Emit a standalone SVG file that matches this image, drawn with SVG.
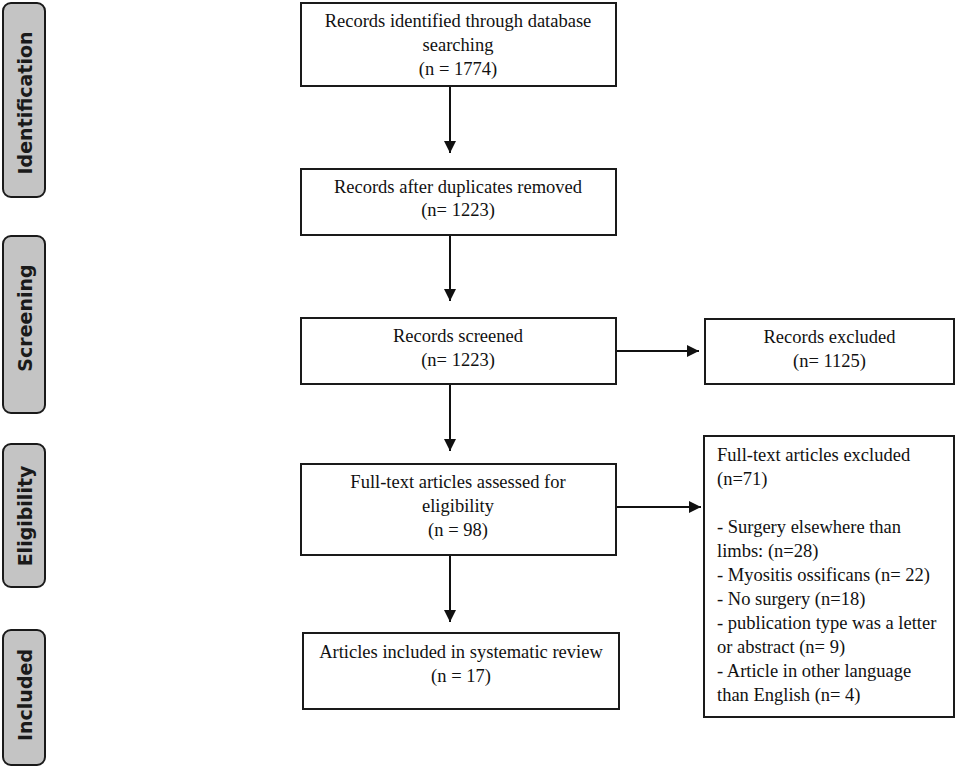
<svg xmlns="http://www.w3.org/2000/svg" width="957" height="769" viewBox="0 0 957 769">
<style>
.bg{fill:#ffffff}
.phase{fill:#c4c4c4;stroke:#1a1a1a;stroke-width:2}
.ptxt{font-family:"DejaVu Sans",Verdana,sans-serif;font-weight:bold;font-size:19px;fill:#1a1a1a;text-anchor:middle;dominant-baseline:central}
.box{fill:#ffffff;stroke:#1a1a1a;stroke-width:2}
.t{font-family:"Liberation Serif","Times New Roman",serif;font-size:18.5px;fill:#111}
.c{text-anchor:middle}
.conn{stroke:#111;stroke-width:2;fill:none;marker-end:url(#ah)}
</style>
<defs>
<marker id="ah" markerUnits="userSpaceOnUse" markerWidth="12" markerHeight="12" refX="12" refY="6" orient="auto">
<path d="M0,0 L12,6 L0,12 z" fill="#111"/>
</marker>
</defs>
<rect class="bg" x="0" y="0" width="957" height="769"/>

<g id="phase-identification">
<rect class="phase" x="3" y="3" width="42" height="194" rx="8"/>
<text class="ptxt" transform="translate(25,103) rotate(-90)">Identification</text>
</g>
<g id="phase-screening">
<rect class="phase" x="3" y="236" width="42" height="177" rx="8"/>
<text class="ptxt" transform="translate(25,318) rotate(-90)">Screening</text>
</g>
<g id="phase-eligibility">
<rect class="phase" x="3" y="444" width="42" height="143" rx="8"/>
<text class="ptxt" transform="translate(25,516) rotate(-90)">Eligibility</text>
</g>
<g id="phase-included">
<rect class="phase" x="3" y="630" width="42" height="135" rx="8"/>
<text class="ptxt" transform="translate(25,695) rotate(-90)">Included</text>
</g>

<g id="connectors">
<line class="conn" x1="450" y1="86" x2="450" y2="153"/>
<line class="conn" x1="450" y1="235" x2="450" y2="301"/>
<line class="conn" x1="616" y1="351" x2="699" y2="351"/>
<line class="conn" x1="450" y1="384" x2="450" y2="451"/>
<line class="conn" x1="616" y1="507" x2="701" y2="507"/>
<line class="conn" x1="450" y1="555" x2="450" y2="622"/>
</g>

<g id="n-identified">
<rect class="box" x="301" y="3" width="315" height="83"/>
<text class="t c" x="458" y="27">Records identified through database</text>
<text class="t c" x="458" y="51">searching</text>
<text class="t c" x="458" y="75">(n = 1774)</text>
</g>
<g id="n-duplicates">
<rect class="box" x="301" y="169" width="315" height="66"/>
<text class="t c" x="458" y="193">Records after duplicates removed</text>
<text class="t c" x="458" y="216">(n= 1223)</text>
</g>
<g id="n-screened">
<rect class="box" x="301" y="318" width="315" height="66"/>
<text class="t c" x="458" y="342">Records screened</text>
<text class="t c" x="458" y="366">(n= 1223)</text>
</g>
<g id="n-excluded">
<rect class="box" x="705" y="319" width="249" height="65"/>
<text class="t c" x="829.5" y="343">Records excluded</text>
<text class="t c" x="829.5" y="367">(n= 1125)</text>
</g>
<g id="n-fulltext">
<rect class="box" x="301" y="464" width="315" height="91"/>
<text class="t c" x="458" y="488">Full-text articles assessed for</text>
<text class="t c" x="458" y="512">eligibility</text>
<text class="t c" x="458" y="536">(n = 98)</text>
</g>
<g id="n-fulltext-excluded">
<rect class="box" x="704" y="436" width="250" height="281"/>
<text class="t" x="717" y="461">Full-text articles excluded</text>
<text class="t" x="717" y="485">(n=71)</text>
<text class="t" x="717" y="533">- Surgery elsewhere than</text>
<text class="t" x="717" y="557">limbs: (n=28)</text>
<text class="t" x="717" y="581">- Myositis ossificans (n= 22)</text>
<text class="t" x="717" y="605">- No surgery (n=18)</text>
<text class="t" x="717" y="629">- publication type was a letter</text>
<text class="t" x="717" y="653">or abstract (n= 9)</text>
<text class="t" x="717" y="677">- Article in other language</text>
<text class="t" x="717" y="701">than English (n= 4)</text>
</g>
<g id="n-included">
<rect class="box" x="303" y="633" width="316" height="76"/>
<text class="t c" x="461" y="658">Articles included in systematic review</text>
<text class="t c" x="461" y="682">(n = 17)</text>
</g>
</svg>
